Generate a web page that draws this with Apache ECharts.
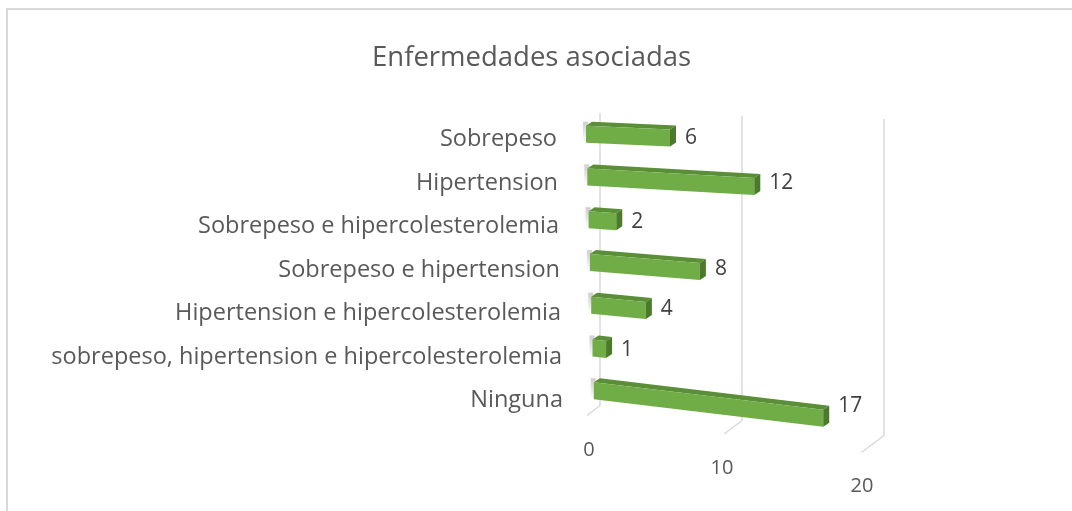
<!DOCTYPE html>
<html lang="es">
<head>
    <meta charset="UTF-8">
    <script type="text/javascript" src="https://cdn.jsdelivr.net/npm/echarts@6/dist/echarts.min.js"></script>
    <title>Enfermedades asociadas</title>
    <style type="text/css">
        html, body { margin: 0; padding: 0; background: #fff; }
        #chart { width: 1072px; height: 511px; }
    </style>
</head>
<body>
    <div id="chart"></div>
    <script type="text/javascript">
        let categories = [
            'Sobrepeso',
            'Hipertension',
            'Sobrepeso e hipercolesterolemia',
            'Sobrepeso e hipertension',
            'Hipertension e hipercolesterolemia',
            'sobrepeso, hipertension e hipercolesterolemia',
            'Ninguna'
        ]
        let counts = [6, 12, 2, 8, 4, 1, 17]
        let xTicks = [0, 10, 20]

        let font = '"Open Sans", "Noto Sans", sans-serif'

        // fake 3d box, roughly like excel's perspective bars
        function renderBar(params, api) {
            let v = api.value(0)
            let r = api.value(1)
            let base = api.coord([0, r])
            let end = api.coord([v, r])
            let x0 = base[0] + 1.3 * r
            let yc = base[1] - 3 - 0.67 * r
            let w = (end[0] - base[0]) * (1 - 0.006 * r)
            let s = 0.045 + 0.0125 * r
            let ws = w * s
            let dx = 6, dy = 4, h1 = 8, h2 = 9
            let front = [[x0, yc - h1], [x0 + w, yc - h1 + ws], [x0 + w, yc + h2 + ws], [x0, yc + h2]]
            let top = [[x0, yc - h1], [x0 + dx, yc - h1 - dy], [x0 + w + dx, yc - h1 - dy + ws], [x0 + w, yc - h1 + ws]]
            let side = [[x0 + w, yc - h1 + ws], [x0 + w + dx, yc - h1 - dy + ws], [x0 + w + dx, yc + h2 - dy + ws], [x0 + w, yc + h2 + ws]]
            return {
                type: 'group',
                children: [
                    {
                        // soft shadow at the back of the bar
                        type: 'rect',
                        shape: { x: x0 - 3, y: yc - h1 - dy, width: 5, height: h1 + h2 + dy },
                        style: {
                            fill: new echarts.graphic.LinearGradient(0, 0, 0, 1, [
                                { offset: 0, color: 'rgba(0,0,0,0.18)' },
                                { offset: 1, color: 'rgba(0,0,0,0)' }
                            ]),
                            shadowBlur: 6, shadowColor: 'rgba(0,0,0,0.25)'
                        }
                    },
                    { type: 'polygon', shape: { points: top }, style: { fill: '#5a8f37' } },
                    { type: 'polygon', shape: { points: front }, style: { fill: '#70ad47' } },
                    { type: 'polygon', shape: { points: side }, style: { fill: '#4b7a2c' } },
                    {
                        type: 'text',
                        style: {
                            x: x0 + w + dx + 9, y: yc + ws * 0.5 + 2,
                            text: String(v),
                            fill: '#404040', font: '21px ' + font,
                            verticalAlign: 'middle', align: 'left'
                        }
                    }
                ]
            }
        }

        // back wall + floor lines
        function renderGrid(params, api) {
            let v = api.value(0)
            let first = api.coord([0, 0])
            let last = api.coord([0, categories.length - 1])
            let xf = api.coord([v, 0])[0]
            let band = api.size([0, 1])[1]
            let gTop = first[1] - band / 2
            let gBot = last[1] + band / 2
            let xb = first[0] + 14 + (xf - first[0]) * 1.014
            let xfr = first[0] + 1 + (xf - first[0]) * 0.98
            let pts = [
                [xb, gTop - 2 + 0.3 * v],
                [xb, gBot - 13.5 + 1.5 * v],
                [xfr, gBot - 3.5 + 1.85 * v]
            ]
            return {
                type: 'polyline',
                shape: { points: pts },
                style: { stroke: '#d9d9d9', lineWidth: 1.5, fill: null }
            }
        }

        let labelRich = {}
        categories.forEach(function (c, i) {
            labelRich['r' + i] = {
                fontFamily: font, fontSize: 23.5, color: '#595959',
                padding: [6, 6 - i, 0, 0]
            }
        })

        let chart = echarts.init(document.getElementById('chart'))
        let option = {
            animation: false,
            backgroundColor: '#fff',
            title: {
                text: 'Enfermedades asociadas',
                left: 367,
                top: 39,
                textStyle: { fontFamily: font, fontSize: 27.5, fontWeight: 'normal', color: '#595959' }
            },
            graphic: [{
                type: 'rect',
                shape: { x: 7, y: 9, width: 1100, height: 540 },
                style: { fill: null, stroke: '#d9d9d9', lineWidth: 2 },
                silent: true
            }],
            grid: { left: 586, right: 206, top: 115, bottom: 92, containLabel: false, outerBoundsMode: 'none' },
            xAxis: {
                type: 'value',
                min: 0,
                max: 20,
                interval: 10,
                axisLine: { show: false },
                axisTick: { show: false },
                splitLine: { show: false },
                axisLabel: {
                    margin: 21,
                    formatter: function (val) {
                        return '{t' + val + '|' + val + '}'
                    },
                    rich: {
                        t0: { fontFamily: font, fontSize: 20, color: '#595959', padding: [0, 0, 0, 6] },
                        t10: { fontFamily: font, fontSize: 20, color: '#595959', padding: [18, 8, 0, 0] },
                        t20: { fontFamily: font, fontSize: 20, color: '#595959', padding: [36, 8, 0, 0] }
                    }
                }
            },
            yAxis: {
                type: 'category',
                inverse: true,
                data: categories,
                axisLine: { show: false },
                axisTick: { show: false },
                axisLabel: {
                    margin: 23,
                    formatter: function (val, idx) {
                        return '{r' + idx + '|' + val + '}'
                    },
                    rich: labelRich
                }
            },
            series: [
                {
                    type: 'custom',
                    renderItem: renderGrid,
                    clip: false,
                    silent: true,
                    z: 1,
                    data: xTicks.map(function (t) { return [t, 0] })
                },
                {
                    type: 'custom',
                    renderItem: renderBar,
                    clip: false,
                    z: 2,
                    encode: { x: 0, y: 1 },
                    data: counts.map(function (c, i) { return [c, i] })
                }
            ]
        }
        chart.setOption(option)
    </script>
</body>
</html>
